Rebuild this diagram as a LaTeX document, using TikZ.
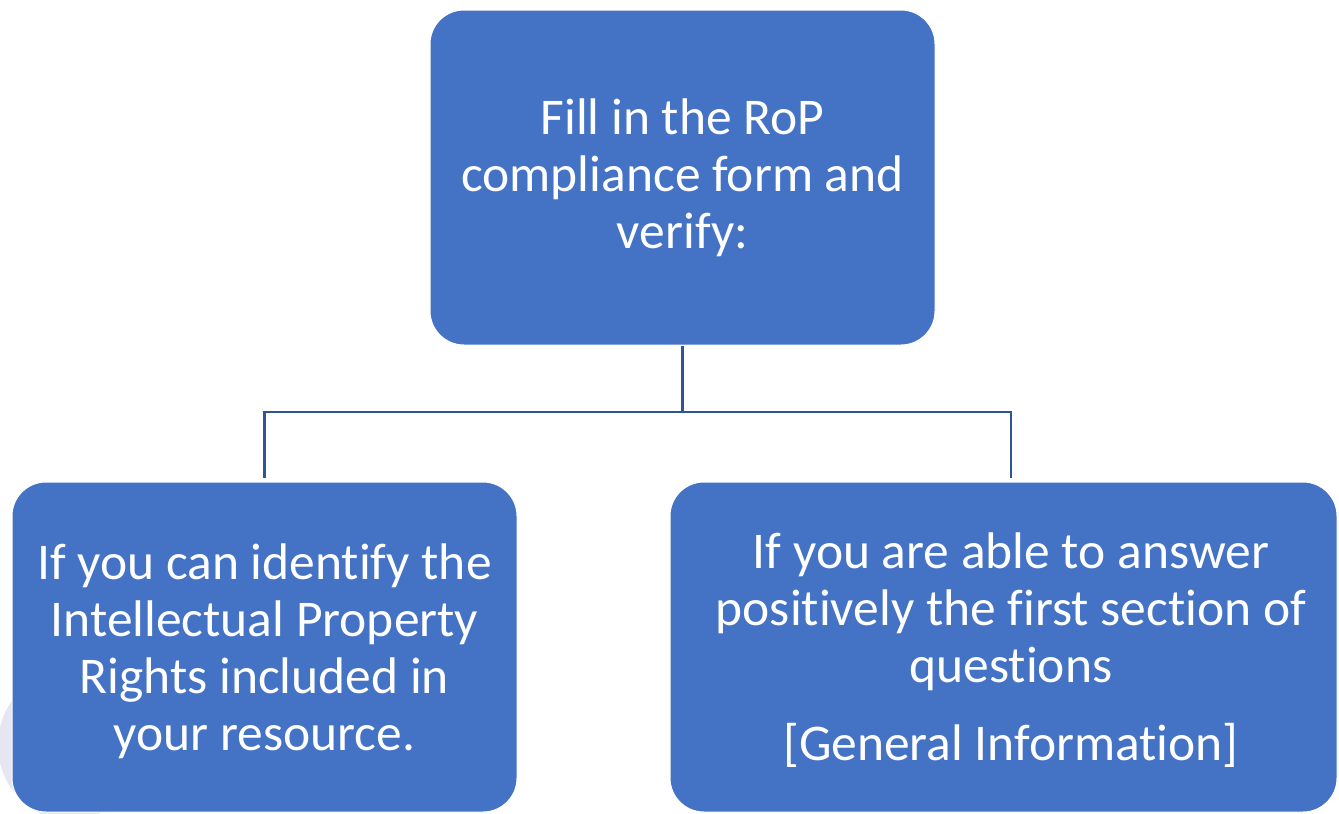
\documentclass[tikz,border=0pt]{standalone}
\usepackage{fontspec}
\setmainfont{Carlito}[Ligatures={NoCommon}]
\definecolor{boxblue}{HTML}{4472C4}
\definecolor{linkblue}{HTML}{2F5597}
\definecolor{faint}{HTML}{E6E6F2}
\begin{document}
\begin{tikzpicture}[x=1pt,y=-1pt,
  box/.style={draw=white,line width=1pt,fill=boxblue,rounded corners=34pt,
    text=white,align=center,inner sep=0pt,font=\fontsize{51.5}{57}\selectfont},
  boxtext/.style={text=white,align=center,inner sep=0pt,font=\fontsize{51.5}{57}\selectfont},
  link/.style={draw=linkblue,line width=2.4pt}]
\useasboundingbox (0,0) rectangle (1339,814);
\fill[faint] (70,745) ellipse (72 and 75);
\node[box,minimum width=505pt,minimum height=335pt] (top) at (682.5,177.5)
  {Fill in the RoP\\compliance form and\\verify:};
\node[box,minimum width=505pt,minimum height=330pt] (left) at (264.5,647) {};
\node[boxtext] (lefttext) at (264.5,651)
  {If you can identify the\\Intellectual Property\\Rights included in\\your resource.};
\node[box,minimum width=667pt,minimum height=330pt] (right) at (1003.5,647) {};
\node[boxtext] (righttext) at (1011,650)
  {If you are able to answer\\positively the first section of\\questions\\[21pt][General Information]};
\coordinate (bar) at (682.5,412);
\coordinate (rdrop) at (1011,482);
\draw[link] (top.south) -- (bar);
\draw[link,shorten >=4pt] (bar) -| (left.north);
\draw[link,shorten >=4pt] (bar) -| (rdrop);
\end{tikzpicture}
\end{document}
